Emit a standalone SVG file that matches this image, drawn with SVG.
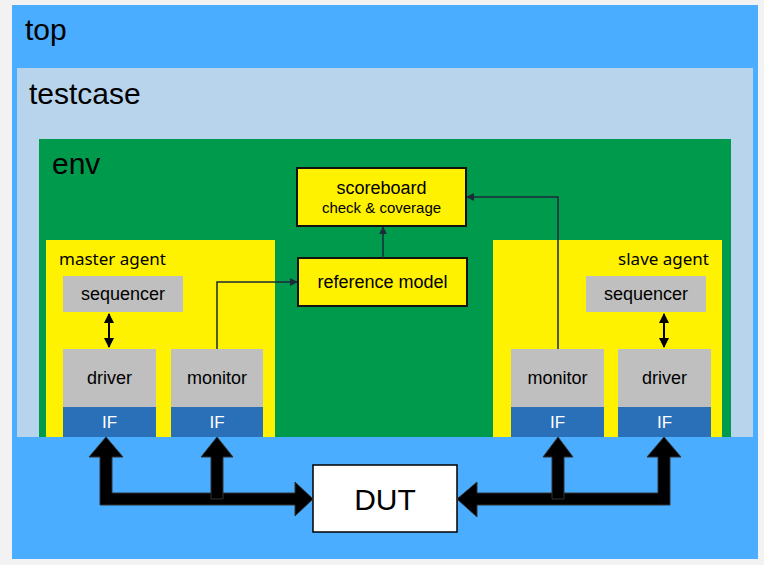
<svg xmlns="http://www.w3.org/2000/svg" width="764" height="565" viewBox="0 0 764 565">
<style>
.t{font-family:"Liberation Sans",Arial,sans-serif;fill:#000}
.big{font-size:30px}
.lbl{font-size:18px;text-anchor:middle}
.ag{font-family:"Noto Sans","Open Sans",sans-serif;font-size:17px;fill:#000}
.gray{fill:#bfbfbf}
.ifb{fill:#2a70b8}
.ift{font-family:"Liberation Sans",Arial,sans-serif;font-size:17px;fill:#fff;text-anchor:middle}
.yel{fill:#fff200}
.thin{stroke:#1c2a3a;stroke-width:1.5;fill:none}
.dbl{stroke:#000;stroke-width:2;fill:none}
.fat{fill:#000;stroke:#333;stroke-width:1}
</style>
<defs>
<marker id="ah" viewBox="0 0 10 10" refX="9" refY="5" markerWidth="8" markerHeight="8" markerUnits="userSpaceOnUse" orient="auto-start-reverse">
<path d="M0,0 L10,5 L0,10 z" fill="#1c2a3a"/>
</marker>
<marker id="ahb" viewBox="0 0 10 10" refX="9" refY="5" markerWidth="10" markerHeight="10" markerUnits="userSpaceOnUse" orient="auto-start-reverse">
<path d="M0,0 L10,5 L0,10 z" fill="#000"/>
</marker>
</defs>
<rect x="0" y="0" width="764" height="565" fill="#f2f2f2"/>
<g id="top">
<rect x="12" y="5" width="746" height="554" fill="#4aadff"/>
<text class="t big" x="25" y="40">top</text>
</g>
<g id="testcase">
<rect x="17" y="68" width="736" height="369" fill="#b8d4ed"/>
<text class="t big" x="29" y="104">testcase</text>
</g>
<g id="env">
<rect x="39" y="139" width="692" height="298" fill="#009a4c"/>
<text class="t big" x="52" y="174">env</text>
</g>
<g id="master_agent">
<rect class="yel" x="46" y="240" width="229" height="197"/>
<text class="ag" x="59" y="265">master agent</text>
</g>
<g id="master_sequencer">
<rect class="gray" x="63" y="276" width="120" height="36"/>
<text class="t lbl" x="123" y="300">sequencer</text>
</g>
<g id="master_driver">
<rect class="gray" x="63" y="349" width="93" height="58"/>
<text class="t lbl" x="109.5" y="384">driver</text>
<rect class="ifb" x="63" y="407" width="93" height="30"/>
<text class="ift" x="109.5" y="428">IF</text>
</g>
<g id="master_monitor">
<rect class="gray" x="171" y="349" width="92" height="58"/>
<text class="t lbl" x="217" y="384">monitor</text>
<rect class="ifb" x="171" y="407" width="92" height="30"/>
<text class="ift" x="217" y="428">IF</text>
</g>
<g id="slave_agent">
<rect class="yel" x="493" y="240" width="229" height="197"/>
<text class="ag" x="709" y="265" text-anchor="end">slave agent</text>
</g>
<g id="slave_sequencer">
<rect class="gray" x="586" y="276" width="120" height="36"/>
<text class="t lbl" x="646" y="300">sequencer</text>
</g>
<g id="slave_monitor">
<rect class="gray" x="511" y="349" width="93" height="58"/>
<text class="t lbl" x="557.5" y="384">monitor</text>
<rect class="ifb" x="511" y="407" width="93" height="30"/>
<text class="ift" x="557.5" y="428">IF</text>
</g>
<g id="slave_driver">
<rect class="gray" x="618" y="349" width="93" height="58"/>
<text class="t lbl" x="664.5" y="384">driver</text>
<rect class="ifb" x="618" y="407" width="93" height="30"/>
<text class="ift" x="664.5" y="428">IF</text>
</g>
<g id="scoreboard">
<rect x="297" y="168" width="169" height="58" fill="#fff200" stroke="#111" stroke-width="2"/>
<text class="t" x="381.5" y="194" font-size="18" text-anchor="middle">scoreboard</text>
<text class="t" x="381.5" y="213" font-size="15" text-anchor="middle">check &amp; coverage</text>
</g>
<g id="reference_model">
<rect x="298" y="258" width="169" height="48" fill="#fff200" stroke="#111" stroke-width="2"/>
<text class="t" x="382.5" y="288" font-size="18" text-anchor="middle">reference model</text>
</g>
<g id="dut">
<rect x="313" y="465" width="144" height="67" fill="#fff" stroke="#000" stroke-width="1.5"/>
<text class="t" x="385" y="510" font-size="30" text-anchor="middle">DUT</text>
</g>
<g id="connectors">
<path class="thin" d="M217,349 V282 H297" marker-end="url(#ah)"/>
<path class="thin" d="M383,258 V227" marker-end="url(#ah)"/>
<path class="thin" d="M558,349 V197 H467" marker-end="url(#ah)"/>
<path class="dbl" d="M109,314 V347" marker-start="url(#ahb)" marker-end="url(#ahb)"/>
<path class="dbl" d="M664,314 V347" marker-start="url(#ahb)" marker-end="url(#ahb)"/>
<polygon class="fat" points="106,437 123,457 112,457 112,493 295,493 295,482 313,499 295,516 295,505 100,505 100,457 89,457"/>
<polygon class="fat" points="217,437 233,457 223,457 223,499 211,499 211,457 201,457"/>
<polygon class="fat" points="457,499 477,482 477,493 658,493 658,457 647,457 664,437 681,457 670,457 670,505 477,505 477,517"/>
<polygon class="fat" points="558,437 573,457 564,457 564,499 552,499 552,457 543,457"/>
</g>
</svg>
